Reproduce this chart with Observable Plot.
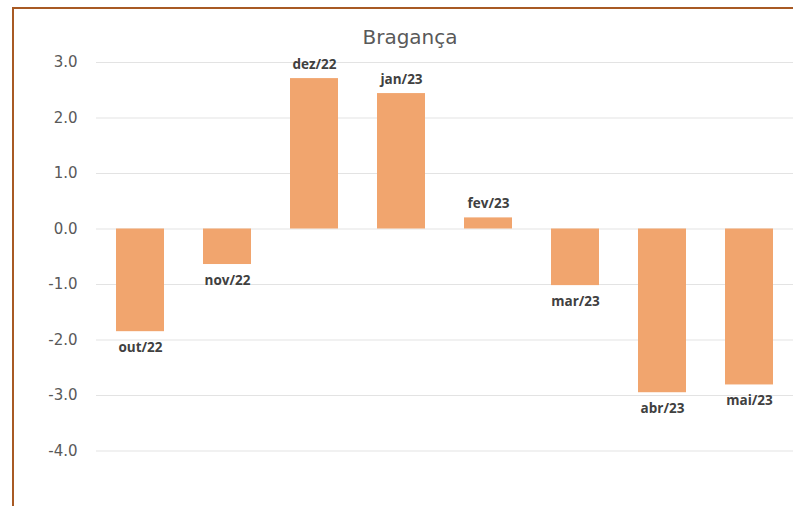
<!DOCTYPE html>
<html>
<head>
<meta charset="utf-8">
<script src="https://cdn.jsdelivr.net/npm/d3@7"></script>
<script src="https://cdn.jsdelivr.net/npm/@observablehq/plot@0.6"></script>
<style>
  html, body { margin: 0; padding: 0; background: #fff; }
  #wrap { position: relative; width: 793px; height: 506px; overflow: hidden; }
  #frame { position: absolute; left: 12px; top: 7px; width: 900px; height: 600px;
           border-left: 2px solid #a85a24; border-top: 2px solid #a85a24; box-sizing: border-box; }
  #title { position: absolute; top: 27px; left: 410px; transform: translateX(-50%);
           font-family: "DejaVu Sans", sans-serif; font-size: 20px; line-height: 20px;
           color: #595959; white-space: nowrap; }
  #chart { position: absolute; left: 0; top: 0; }
</style>
</head>
<body>
<div id="wrap">
  <div id="frame"></div>
  <div id="chart"></div>
  <div id="title"></div>
</div>
<script>
const title = "Bragança";
const months = ["out/22", "nov/22", "dez/22", "jan/23", "fev/23", "mar/23", "abr/23", "mai/23"];
const values = [-1.85, -0.64, 2.71, 2.44, 0.20, -1.02, -2.95, -2.81];
const yTicks = [-4, -3, -2, -1, 0, 1, 2, 3];

document.getElementById("title").textContent = title;

const data = months.map((m, i) => ({month: m, value: values[i]}));

const chart = Plot.plot({
  width: 793,
  height: 506,
  marginLeft: 96,
  marginRight: 0,
  marginTop: 62,
  marginBottom: 0,
  style: {fontFamily: "DejaVu Sans, sans-serif", background: "transparent"},
  x: {domain: months, paddingInner: 0.443, paddingOuter: 0.22, axis: null},
  y: {domain: [-5, 3]},
  marks: [
    Plot.ruleY(yTicks, {stroke: "#e3e3e3", strokeWidth: 1}),
    Plot.axisY(yTicks, {tickSize: 0, tickPadding: 19, fontSize: 15, color: "#595959", tickFormat: d => d.toFixed(1), label: null}),
    Plot.barY(data, {x: "month", y: "value", fill: "#f1a56e"}),
    Plot.text(data.filter(d => d.value >= 0), {x: "month", y: "value", text: "month", dy: -14,
      fontFamily: "Open Sans, sans-serif", fontWeight: "bold", fontSize: 13.5, fill: "#404040"}),
    Plot.text(data.filter(d => d.value < 0), {x: "month", y: "value", text: "month", dy: 16,
      fontFamily: "Open Sans, sans-serif", fontWeight: "bold", fontSize: 13.5, fill: "#404040"})
  ]
});
document.getElementById("chart").appendChild(chart);
</script>
</body>
</html>
